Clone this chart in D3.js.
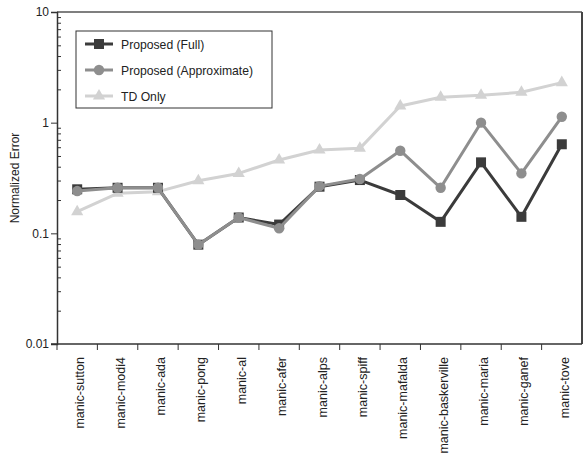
<!DOCTYPE html>
<html>
<head>
<meta charset="utf-8">
<script src="https://cdn.jsdelivr.net/npm/d3@7"></script>
<style>
  html, body { margin: 0; padding: 0; background: #fff; }
  svg { display: block; font-family: "Liberation Sans", Arial, sans-serif; }
</style>
</head>
<body>
<svg id="chart" width="584" height="456"></svg>
<script>
// Benchmark fonts on the x axis
const categories = [
  "manic-sutton", "manic-modi4", "manic-ada", "manic-pong", "manic-al",
  "manic-afer", "manic-alps", "manic-spiff", "manic-mafalda",
  "manic-baskerville", "manic-maria", "manic-ganef", "manic-tove"
];

// Normalized error per method
const proposedFull = [0.25, 0.258, 0.258, 0.079, 0.139, 0.12, 0.264, 0.303, 0.222, 0.127, 0.438, 0.141, 0.638];
const proposedApprox = [0.241, 0.258, 0.258, 0.079, 0.139, 0.111, 0.267, 0.31, 0.558, 0.258, 1.0, 0.348, 1.13];
const tdOnly = [0.157, 0.23, 0.238, 0.299, 0.348, 0.46, 0.566, 0.586, 1.416, 1.70, 1.77, 1.88, 2.30];

const yTickValues = [0.01, 0.1, 1, 10];
const yTickLabels = ["0.01", "0.1", "1", "10"];
const yTitle = "Normalized Error";

const seriesNames = ["Proposed (Full)", "Proposed (Approximate)", "TD Only"];

const svg = d3.select("#chart");
const plotLeft = 57, plotRight = 582, plotTop = 12, plotBottom = 344;

const x = d3.scaleBand().domain(categories).range([plotLeft, plotRight]).padding(0);
const y = d3.scaleLog().domain([0.01, 10]).range([plotBottom, plotTop]);

const axisColor = "#333";
const textColor = "#222";

// frame: top and right edges
svg.append("line").attr("x1", plotLeft).attr("x2", plotRight).attr("y1", plotTop).attr("y2", plotTop)
  .attr("stroke", "#555").attr("stroke-width", 1.5);
svg.append("line").attr("x1", plotRight).attr("x2", plotRight).attr("y1", plotTop).attr("y2", plotBottom)
  .attr("stroke", "#444").attr("stroke-width", 2);

// minor y ticks (inside)
const minor = [];
[0.01, 0.1, 1].forEach(d => { for (let k = 2; k <= 9; k++) minor.push(d * k); });
svg.append("g").attr("transform", `translate(${plotLeft},0)`)
  .call(d3.axisRight(y).tickValues(minor).tickSize(4).tickFormat(""))
  .call(g => g.select(".domain").remove())
  .call(g => g.selectAll("line").attr("stroke", axisColor));

// major y axis
svg.append("g").attr("transform", `translate(${plotLeft},0)`)
  .call(d3.axisLeft(y).tickValues(yTickValues).tickSizeOuter(0).tickSize(6)
    .tickFormat((d, i) => yTickLabels[i]))
  .call(g => g.select(".domain").attr("stroke", axisColor).attr("stroke-width", 1.5))
  .call(g => g.selectAll("line").attr("stroke", axisColor))
  .call(g => g.selectAll("text").attr("fill", textColor).attr("font-size", 12)
    .attr("font-family", "Liberation Sans, Arial, sans-serif").attr("x", -8));

// x axis: ticks at band boundaries
const boundaries = categories.map(c => x(c));
svg.append("line").attr("x1", plotLeft - 6).attr("x2", plotRight).attr("y1", plotBottom).attr("y2", plotBottom)
  .attr("stroke", axisColor).attr("stroke-width", 1.5);
svg.append("g").selectAll("line").data(boundaries).join("line")
  .attr("x1", d => d).attr("x2", d => d).attr("y1", plotBottom).attr("y2", plotBottom + 6)
  .attr("stroke", axisColor);

svg.append("g").selectAll("text").data(categories).join("text")
  .attr("transform", d => `translate(${x(d) + x.bandwidth() / 2 + 7},${plotBottom + 13}) rotate(-90)`)
  .attr("text-anchor", "end")
  .attr("font-size", 12.5)
  .attr("fill", textColor)
  .text(d => d);

// y title
svg.append("text")
  .attr("transform", `translate(19,${(plotTop + plotBottom) / 2}) rotate(-90)`)
  .attr("text-anchor", "middle")
  .attr("font-size", 12)
  .attr("fill", textColor)
  .text(yTitle);

const cx = d => x(d) + x.bandwidth() / 2;
const line = d3.line().x((d, i) => cx(categories[i])).y(d => y(d));

const series = [
  { name: seriesNames[2], values: tdOnly, color: "#d2d2d2", shape: d3.symbolTriangle, size: 64 },
  { name: seriesNames[0], values: proposedFull, color: "#3b3b3b", shape: d3.symbolSquare, size: 100 },
  { name: seriesNames[1], values: proposedApprox, color: "#8e8e8e", shape: d3.symbolCircle, size: 85 }
];

series.forEach(s => {
  const g = svg.append("g");
  g.append("path").datum(s.values).attr("d", line)
    .attr("fill", "none").attr("stroke", s.color).attr("stroke-width", 3)
    .attr("stroke-linejoin", "round");
  g.selectAll("path.m").data(s.values).join("path").attr("class", "m")
    .attr("transform", (d, i) => `translate(${cx(categories[i])},${y(d)})`)
    .attr("d", d3.symbol().type(s.shape).size(s.size))
    .attr("fill", s.color);
});

// legend
const legend = svg.append("g");
legend.append("rect").attr("x", 76).attr("y", 31).attr("width", 196).attr("height", 77)
  .attr("fill", "#fff").attr("stroke", "#333").attr("stroke-width", 1);
const legendOrder = [series[1], series[2], series[0]];
legendOrder.forEach((s, i) => {
  const ly = 44 + i * 26;
  legend.append("line").attr("x1", 85).attr("x2", 113).attr("y1", ly).attr("y2", ly)
    .attr("stroke", s.color).attr("stroke-width", 3);
  legend.append("path").attr("transform", `translate(99,${ly})`)
    .attr("d", d3.symbol().type(s.shape).size(s.size)).attr("fill", s.color);
  legend.append("text").attr("x", 121).attr("y", ly + 4.5)
    .attr("font-size", 12.2).attr("fill", textColor).text(s.name);
});
</script>
</body>
</html>
